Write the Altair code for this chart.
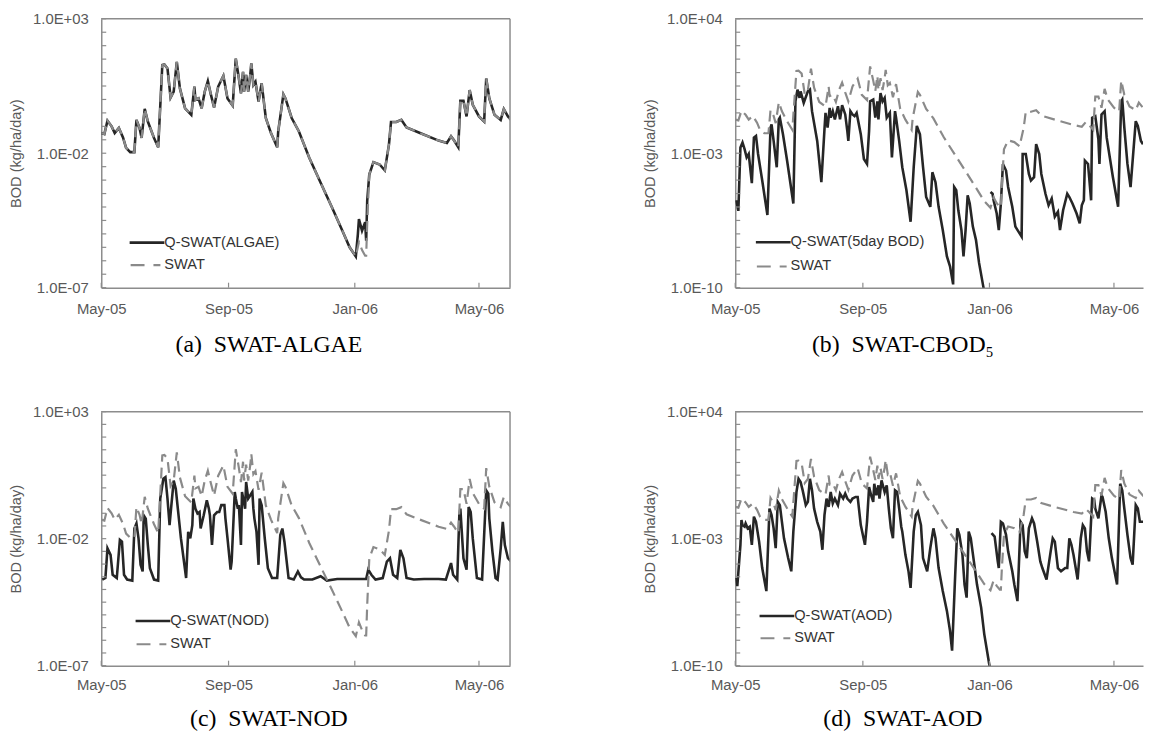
import altair as alt
import pandas as pd

# x = days after 1 May 2005 ; y values are log10 of BOD (kg/ha/day)

# SWAT (the same dashed curve appears in all four panels)
swat_day = [0, 3, 6, 10, 13, 17, 21, 24, 28, 32, 34, 37, 39, 42, 45, 51, 55, 59, 61, 64,
            67, 70, 73, 76, 81, 87, 90, 91, 94, 97, 100, 103, 106, 109, 113, 118, 122, 127, 130, 133,
            135, 137, 138, 140, 142, 144, 145, 147, 149, 152, 155, 159, 164, 170, 171, 176, 178, 184, 191, 201,
            212, 223, 233, 240, 246, 249, 252, 255, 256, 257, 259, 263, 269, 274, 278, 280, 285, 290, 295, 308,
            326, 334, 338, 341, 345, 347, 350, 353, 356, 359, 365, 370, 372, 375, 380, 386, 389, 393, 396]
swat_log = [-1.25, -1.29, -0.79, -1.00, -1.25, -1.06, -1.41, -1.80, -1.96, -1.96, -0.76, -1.06, -1.43, -0.35, -0.82, -1.43, -1.78, 1.28, 1.30, 1.15,
            0.07, 0.29, 1.40, 0.41, -0.33, -0.57, 0.48, -0.02, 0.04, -0.33, 0.29, 0.68, 0.17, -0.30, 0.48, 0.88, 0.04, -0.23, 1.52, 0.78,
            0.23, 1.03, 0.29, 0.91, 0.29, 0.91, 1.34, 0.54, 0.66, -0.08, 0.60, -0.69, -1.25, -1.78, -1.19, 0.19, 0.04, -0.69, -1.19, -2.17,
            -3.10, -4.02, -4.88, -5.50, -5.84, -5.30, -5.60, -5.81, -5.81, -4.60, -2.79, -2.33, -2.42, -2.64, -1.68, -0.84, -0.84, -0.76, -1.04, -1.25,
            -1.53, -1.62, -1.37, -1.53, -1.78, -0.05, -0.05, -0.63, 0.35, -0.20, -0.63, -0.82, 0.78, 0.04, -0.57, -0.76, -0.36, -0.63, -0.76]

# Q-SWAT(ALGAE)
algae_day = [0, 3, 6, 10, 13, 17, 21, 24, 28, 32, 34, 37, 39, 42, 45, 51, 55, 59, 61, 64,
             67, 70, 73, 76, 81, 87, 90, 91, 94, 97, 100, 103, 106, 109, 113, 118, 122, 127, 130, 133,
             135, 137, 138, 140, 142, 144, 145, 147, 149, 152, 155, 159, 164, 170, 171, 176, 178, 184, 191, 201,
             212, 223, 233, 240, 246, 248, 249, 252, 255, 256, 257, 259, 263, 269, 274, 278, 280, 285, 290, 295, 308,
             326, 334, 338, 341, 345, 347, 350, 353, 356, 359, 365, 370, 372, 375, 380, 386, 389, 393, 396]
algae_log = [-1.25, -1.29, -0.79, -1.00, -1.25, -1.06, -1.41, -1.80, -1.96, -1.96, -0.76, -1.06, -1.43, -0.35, -0.82, -1.43, -1.78, 1.28, 1.30, 1.15,
             0.07, 0.29, 1.40, 0.41, -0.33, -0.57, 0.48, -0.02, 0.04, -0.33, 0.29, 0.68, 0.17, -0.30, 0.48, 0.88, 0.04, -0.23, 1.52, 0.78,
             0.23, 1.03, 0.29, 0.91, 0.29, 0.91, 1.34, 0.54, 0.66, -0.08, 0.60, -0.69, -1.25, -1.78, -1.19, 0.19, 0.04, -0.69, -1.19, -2.17,
             -3.10, -4.02, -4.88, -5.50, -5.84, -5.00, -4.45, -4.88, -4.57, -5.25, -3.77, -2.79, -2.33, -2.42, -2.64, -1.68, -0.84, -0.84, -0.76, -1.04, -1.25,
             -1.53, -1.62, -1.37, -1.53, -1.78, -0.05, -0.05, -0.63, 0.35, -0.20, -0.63, -0.82, 0.78, 0.04, -0.57, -0.76, -0.36, -0.63, -0.76]

# Q-SWAT(5day BOD): two pieces (values drop below the axis around January)
cbod_day_1 = [1, 3, 5, 7, 9, 11, 13, 16, 18, 20, 22, 26, 31, 34, 35, 37, 40, 42, 43, 46,
              50, 56, 58, 60, 62, 63, 66, 70, 72, 74, 79, 83, 86, 87, 89, 91, 92, 94, 96, 99,
              101, 103, 106, 108, 109, 111, 113, 115, 117, 121, 124, 127, 129, 130, 133, 135, 137, 138, 140, 142,
              144, 146, 149, 151, 154, 155, 158, 161, 165, 169, 172, 175, 178, 181, 184, 188, 190, 193, 196, 200,
              204, 207, 210, 211, 213, 215, 218, 220, 222, 224, 226, 229, 232, 235, 239, 241]
cbod_log_1 = [-5.45, -6.00, -2.70, -2.44, -2.79, -3.22, -3.04, -4.56, -2.19, -2.10, -3.04, -4.42, -6.22, -1.67, -1.50, -2.36, -3.73, -1.24, -1.15, -2.01,
              -3.39, -5.62, -0.30, 0.31, -0.12, 0.22, -0.38, 0.22, 0.31, -0.81, -2.36, -4.51, -1.76, -0.90, -1.67, -0.64, -1.15, -0.81, -1.24, -0.55,
              -1.24, -0.50, -0.98, -1.84, -2.36, -0.81, -0.98, -1.07, -0.90, -2.01, -3.30, -3.56, -1.84, -0.30, -0.21, -1.15, -0.30, -1.24, 0.13, -0.30,
              -0.12, -1.15, -0.90, -3.22, -0.81, -1.15, -2.36, -3.73, -4.93, -6.57, -3.73, -1.58, -2.01, -3.73, -5.28, -5.79, -3.99, -4.51, -5.79, -7.00,
              -8.37, -8.89, -9.83, -4.76, -4.93, -5.97, -7.00, -8.37, -7.00, -5.19, -5.62, -6.82, -7.51, -8.71, -9.92, -10.50]
cbod_day_2 = [246, 248, 249, 252, 254, 256, 258, 261, 263, 267, 270, 276, 277, 280, 283, 285, 288, 290, 293, 295,
              299, 302, 305, 308, 311, 313, 316, 320, 322, 325, 329, 332, 334, 336, 337, 340, 343, 344, 347, 350,
              351, 353, 356, 358, 364, 369, 372, 373, 375, 378, 381, 386, 388, 391, 393]
cbod_log_2 = [-5.02, -5.11, -5.45, -6.14, -7.00, -5.62, -3.56, -3.90, -4.76, -5.79, -6.82, -7.34, -3.04, -3.04, -4.08, -4.42, -4.25, -2.53, -3.04, -4.08,
              -5.11, -5.71, -5.36, -6.31, -6.05, -7.00, -5.97, -5.11, -5.28, -5.62, -6.14, -6.65, -5.71, -5.45, -3.39, -3.56, -5.45, -1.15, -1.07, -2.27,
              -3.56, -0.98, -0.81, -2.19, -4.25, -5.79, -0.30, -0.21, -1.67, -3.56, -4.76, -1.33, -1.58, -2.36, -2.53]

# Q-SWAT(NOD)
nod_day = [1, 4, 6, 9, 11, 15, 18, 20, 22, 25, 30, 32, 34, 36, 38, 40, 41, 43, 45, 47,
           51, 55, 57, 60, 62, 64, 66, 67, 70, 72, 74, 77, 82, 84, 86, 88, 89, 91, 93, 95,
           96, 99, 102, 104, 105, 107, 109, 112, 114, 116, 119, 120, 122, 125, 126, 129, 130, 132, 133, 135,
           136, 139, 140, 142, 144, 146, 147, 148, 150, 152, 153, 155, 158, 161, 165, 170, 173, 175, 177, 181,
           186, 190, 193, 196, 204, 212, 218, 228, 239, 256, 258, 261, 265, 272, 276, 279, 282, 286, 289, 292,
           295, 302, 312, 326, 333, 338, 340, 344, 346, 347, 350, 353, 355, 357, 359, 363, 368, 372, 374, 375,
           378, 381, 383, 386, 388, 390, 393, 396]
nod_log = [-3.61, -3.55, -2.38, -2.64, -3.42, -3.55, -2.05, -2.12, -3.42, -3.61, -3.65, -1.60, -1.40, -1.99, -3.03, -3.29, -1.08, -1.21, -2.25, -3.16,
           -3.61, -3.65, -0.42, 0.36, 0.42, -0.42, -1.47, -1.01, 0.29, -0.03, -0.82, -1.99, -3.55, -1.73, -1.99, -1.47, -0.42, -0.82, -1.01, -0.95,
           -1.60, -1.08, -0.49, -0.82, -1.08, -2.25, -1.08, -0.95, -0.95, -0.68, -0.68, -1.21, -1.99, -3.22, -2.90, -0.16, -0.42, -0.82, -0.68, -2.25,
           -0.16, -0.82, 0.23, -0.42, -0.29, -0.16, -0.82, -1.21, -1.73, -3.03, -0.42, -0.68, -1.99, -3.16, -3.55, -3.55, -1.86, -1.60, -2.12, -3.55,
           -3.61, -3.29, -3.52, -3.61, -3.61, -3.48, -3.65, -3.59, -3.59, -3.59, -3.22, -3.42, -3.61, -3.55, -2.90, -2.77, -3.42, -3.55, -2.44, -2.77,
           -3.55, -3.61, -3.59, -3.59, -3.61, -2.96, -3.42, -3.61, -1.08, -0.82, -2.77, -3.22, -0.75, -0.95, -1.99, -3.55, -3.61, -0.10, -0.23, -1.21,
           -2.51, -3.55, -3.61, -2.38, -1.34, -2.25, -2.77, -2.90]

# Q-SWAT(AOD): two pieces
aod_day_1 = [1, 2, 5, 6, 7, 9, 10, 12, 14, 16, 18, 20, 23, 26, 30, 33, 35, 37, 39, 41,
             43, 45, 47, 51, 54, 56, 59, 61, 63, 65, 68, 70, 72, 74, 76, 79, 82, 84, 86, 88,
             90, 92, 94, 96, 99, 101, 104, 106, 108, 111, 113, 116, 118, 121, 125, 127, 129, 131, 133, 134,
             136, 138, 139, 141, 144, 146, 148, 150, 152, 154, 156, 158, 160, 161, 164, 167, 169, 172, 174, 176,
             179, 181, 185, 188, 191, 193, 196, 200, 204, 207, 209, 212, 214, 216, 219, 221, 223, 225, 227, 230,
             233, 237, 240, 245, 246]
aod_log_1 = [-5.16, -5.62, -3.34, -1.97, -2.25, -2.34, -2.16, -2.43, -2.34, -3.34, -1.79, -2.07, -3.16, -4.62, -5.89, -1.34, -1.70, -2.43, -3.52, -0.97,
             -1.15, -2.07, -2.98, -4.07, -4.80, -2.61, -0.43, 0.30, 0.12, -0.34, -1.15, -0.97, 0.30, -0.34, -1.34, -2.07, -2.61, -3.61, -1.70, -0.79,
             -1.25, -0.43, -1.06, -0.79, -1.15, -0.52, -0.79, -0.52, -0.79, -0.97, -0.79, -0.70, -0.70, -2.25, -3.34, -2.07, -0.15, -0.61, -0.97, 0.03,
             -0.61, -0.06, -0.79, 0.21, -0.43, -0.06, -1.34, -2.43, -2.98, -0.34, -0.43, -1.34, -2.34, -2.61, -3.89, -4.80, -5.71, -2.61, -1.70, -1.52,
             -2.25, -4.07, -4.80, -3.52, -2.43, -2.98, -4.62, -5.89, -6.98, -8.08, -9.17, -4.98, -2.43, -2.79, -3.89, -5.53, -6.25, -2.61, -2.98, -4.25,
             -5.53, -6.80, -8.26, -9.99, -10.50]
aod_day_2 = [247, 250, 253, 254, 256, 258, 261, 263, 267, 269, 272, 275, 277, 279, 281, 283, 286, 288, 291, 294,
             296, 300, 304, 306, 308, 311, 314, 318, 320, 322, 324, 326, 330, 333, 335, 337, 339, 341, 344, 346,
             347, 350, 353, 354, 357, 360, 363, 368, 371, 373, 375, 378, 381, 383, 386, 388, 390, 391, 394]
aod_log_2 = [-2.70, -2.89, -4.25, -4.62, -2.07, -2.16, -2.79, -3.70, -4.80, -5.53, -6.44, -2.07, -2.25, -3.70, -4.07, -2.43, -1.88, -2.16, -3.16, -4.25,
             -4.62, -5.25, -3.70, -2.98, -3.16, -4.62, -4.80, -4.62, -4.62, -2.98, -3.34, -3.89, -5.25, -2.98, -2.25, -2.43, -3.70, -4.25, -0.79, -0.88,
             -1.34, -1.88, -0.61, -0.70, -1.52, -2.98, -4.07, -5.53, 0.03, -0.34, -1.34, -2.79, -4.07, -4.43, -1.15, -1.34, -2.07, -2.07, -2.07]

x_tick_days = [0, 123, 245, 365]
x_tick_labels = ["May-05", "Sep-05", "Jan-06", "May-06"]

SANS = "Liberation Sans, Arial, sans-serif"
SERIF = "Liberation Serif, Times New Roman, serif"
LAB = "#595959"
BOX = "#8c8c8c"
QC = "#262626"
SC = "#8a8a8a"


def series(pieces):
    rows = []
    for part, (days, logs) in enumerate(pieces):
        for d, v in zip(days, logs):
            rows.append({"day": d, "bod": 10.0 ** v, "part": part})
    return pd.DataFrame(rows)


swat_df = series([(swat_day, swat_log)])
algae_df = series([(algae_day, algae_log)])
cbod_df = series([(cbod_day_1, cbod_log_1), (cbod_day_2, cbod_log_2)])
nod_df = series([(nod_day, nod_log)])
aod_df = series([(aod_day_1, aod_log_1), (aod_day_2, aod_log_2)])


def x_expr():
    e = f"'{x_tick_labels[-1]}'"
    for i in range(len(x_tick_days) - 2, -1, -1):
        thr = (x_tick_days[i] + x_tick_days[i + 1]) / 2
        e = f"datum.value < {thr} ? '{x_tick_labels[i]}' : ({e})"
    return e


def y_expr(exps, texts):
    e = f"'{texts[-1]}'"
    for i in range(len(exps) - 2, -1, -1):
        thr = 10.0 ** ((exps[i] + exps[i + 1]) / 2)
        e = f"datum.value > {thr} ? '{texts[i]}' : ({e})"
    return e


def panel(q_df, q_name, lo, hi, label_exps, label_texts, step, xmax, w, h,
          leg_x, leg_y1, leg_y2, caption, cap_dy, xpad, right_border):
    xs = alt.Scale(domain=[0, xmax], nice=False, zero=False)
    ys = alt.Scale(type="log", domain=[10.0 ** lo, 10.0 ** hi], nice=False)
    xax = alt.Axis(values=x_tick_days, labelExpr=x_expr(), title=None, grid=False, ticks=False,
                   labelPadding=xpad, labelFlush=False, labelOverlap=False, labelFont=SANS,
                   labelFontSize=15, labelColor=LAB, domainColor=BOX, domainWidth=1.5)
    yax = alt.Axis(values=[10.0 ** e for e in label_exps], labelExpr=y_expr(label_exps, label_texts),
                   title="BOD (kg/ha/day)", titleX=-85, titleY=h / 2, titleAngle=270,
                   titleAlign="center", titleBaseline="middle", titleFont=SANS, titleFontSize=14.7,
                   titleFontWeight="normal", titleColor=LAB, grid=False, ticks=False,
                   labelPadding=13, labelFlush=False, labelOverlap=False, labelFont=SANS,
                   labelFontSize=15, labelColor=LAB, domainColor=BOX, domainWidth=1.5)
    X = alt.X("day:Q", scale=xs, axis=xax)
    Y = alt.Y("bod:Q", scale=ys, axis=yax)

    q = alt.Chart(q_df).mark_line(color=QC, strokeWidth=2.6, clip=True).encode(x=X, y=Y, detail="part:N")
    s = alt.Chart(swat_df).mark_line(color=SC, strokeWidth=2.2, strokeDash=[11, 6], clip=True).encode(x=X, y=Y)

    xt = alt.Chart(pd.DataFrame({"day": x_tick_days})).mark_rule(color=BOX, strokeWidth=1.2).encode(
        x=X, y=alt.value(h), y2=alt.value(h - 5))
    n = int(round((hi - lo) / step))
    yt = alt.Chart(pd.DataFrame({"bod": [10.0 ** (hi - step * k) for k in range(n + 1)]})).mark_rule(
        color=BOX, strokeWidth=1.2).encode(y=Y, x=alt.value(0), x2=alt.value(5))

    one = pd.DataFrame({"k": [0]})
    layers = [q, s, xt, yt,
              alt.Chart(one).mark_rule(color=BOX, strokeWidth=1.5).encode(
                  x=alt.value(0), x2=alt.value(w), y=alt.value(0))]
    if right_border:
        layers.append(alt.Chart(one).mark_rule(color=BOX, strokeWidth=1.5).encode(
            x=alt.value(w), y=alt.value(0), y2=alt.value(h)))

    layers.append(alt.Chart(one).mark_rule(color=QC, strokeWidth=2.6, strokeCap="butt").encode(
        x=alt.value(leg_x), x2=alt.value(leg_x + 35), y=alt.value(leg_y1)))
    layers.append(alt.Chart(one).mark_rule(color=SC, strokeWidth=2.2, strokeDash=[14, 9], strokeCap="butt").encode(
        x=alt.value(leg_x + 1), x2=alt.value(leg_x + 31), y=alt.value(leg_y2)))
    for t, yy in zip([q_name, "SWAT"], [leg_y1, leg_y2]):
        layers.append(alt.Chart(pd.DataFrame({"t": [t]})).mark_text(
            align="left", baseline="middle", font=SANS, fontSize=14.7, color="#333333").encode(
            x=alt.value(leg_x + 35), y=alt.value(yy), text="t:N"))
    layers.append(alt.Chart(pd.DataFrame({"t": [caption]})).mark_text(
        align="center", baseline="alphabetic", font=SERIF, fontSize=24, color="#000000").encode(
        x=alt.value(169), y=alt.value(h + cap_dy), text="t:N"))
    return alt.layer(*layers).properties(width=w, height=h)


LEFT_W, RIGHT_W = 412, 411
TOP_H, BOT_H = 271, 256

pa = panel(algae_df, "Q-SWAT(ALGAE)", -7, 3, [3, -2, -7], ["1.0E+03", "1.0E-02", "1.0E-07"], 0.5,
           395, LEFT_W, TOP_H, 28.6, 225.6, 248.3, "(a)\u2002SWAT-ALGAE", 65, 14, True)
pb = panel(cbod_df, "Q-SWAT(5day BOD)", -10, 4, [4, -3, -10], ["1.0E+04", "1.0E-03", "1.0E-10"], 0.7,
           393, RIGHT_W, TOP_H, 20.8, 225.3, 249.7, "(b)\u2002SWAT-CBOD\u2085", 65, 14, False)
pc = panel(nod_df, "Q-SWAT(NOD)", -7, 3, [3, -2, -7], ["1.0E+03", "1.0E-02", "1.0E-07"], 0.5,
           395, LEFT_W, BOT_H, 34.6, 211, 234.4, "(c)\u2002SWAT-NOD", 61, 12, True)
pd_ = panel(aod_df, "Q-SWAT(AOD)", -10, 4, [4, -3, -10], ["1.0E+04", "1.0E-03", "1.0E-10"], 0.7,
            393, RIGHT_W, BOT_H, 24.5, 206, 228.4, "(d)\u2002SWAT-AOD", 61, 12, False)

chart = alt.concat(pa, pb, pc, pd_, columns=2, spacing={"row": 125, "column": 227}, bounds="flush").properties(
    padding={"left": 1, "top": 1, "right": 0, "bottom": 0}
).configure_view(stroke=None)

chart.save("out.html", embed_options={"renderer": "svg", "actions": False})
